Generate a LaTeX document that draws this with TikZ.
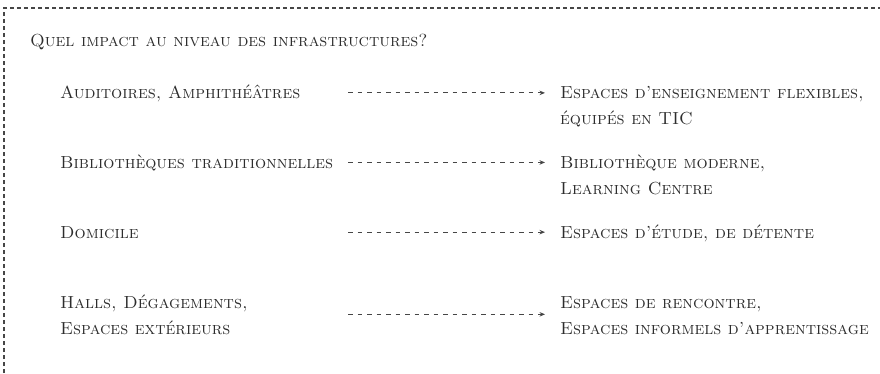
\documentclass[tikz,border=0pt]{standalone}
\usepackage{xcolor}
\usepackage{tikz}
\usetikzlibrary{arrows.meta}

\definecolor{inkgray}{RGB}{45,45,45}
\definecolor{rulegray}{RGB}{70,70,70}

\tikzset{
  label/.style={font=\fontsize{17.5}{26}\selectfont\scshape, text=inkgray,
    inner sep=0pt, anchor=base west, align=left},
  flow/.style={rulegray, line width=0.9pt, dash pattern=on 4.5pt off 5pt,
    -{Stealth[length=5.5pt,width=4.5pt]}, shorten >=15pt},
}

\begin{document}
\begin{tikzpicture}[x=1pt,y=-1pt]

\useasboundingbox (0,0) rectangle (880,373);

% frame, top and left only
\draw[rulegray, line width=1.5pt, dash pattern=on 4pt off 3pt] (4,373) -- (4,8) -- (880,8);

\node[label] (question) at (30,46) {Quel impact au niveau des infrastructures?};

\coordinate (arrx) at (348,0);

% left column (two-line nodes sit on their last baseline)
\node[label] (auditoires) at (60,98)  {Auditoires, Amphithéâtres};
\node[label] (biblio)     at (60,168) {Bibliothèques traditionnelles};
\node[label] (domicile)   at (60,238) {Domicile};
\node[label] (halls)      at (60,334) {Halls, Dégagements,\\Espaces extérieurs};

% right column
\node[label] (flexibles)  at (560,124) {Espaces d'enseignement flexibles,\\équipés en TIC};
\node[label] (moderne)    at (560,194) {Bibliothèque moderne,\\Learning Centre};
\node[label] (etude)      at (560,238) {Espaces d'étude, de détente};
\node[label] (rencontre)  at (560,334) {Espaces de rencontre,\\Espaces informels d'apprentissage};

% arrows
\draw[flow] (auditoires.east -| arrx) -- (auditoires.east -| flexibles.west);
\draw[flow] (biblio.east -| arrx) -- (biblio.east -| moderne.west);
\draw[flow] (domicile.east -| arrx) -- (domicile.east -| etude.west);
\draw[flow] (halls.east -| arrx) -- (halls.east -| rencontre.west);

\end{tikzpicture}
\end{document}
